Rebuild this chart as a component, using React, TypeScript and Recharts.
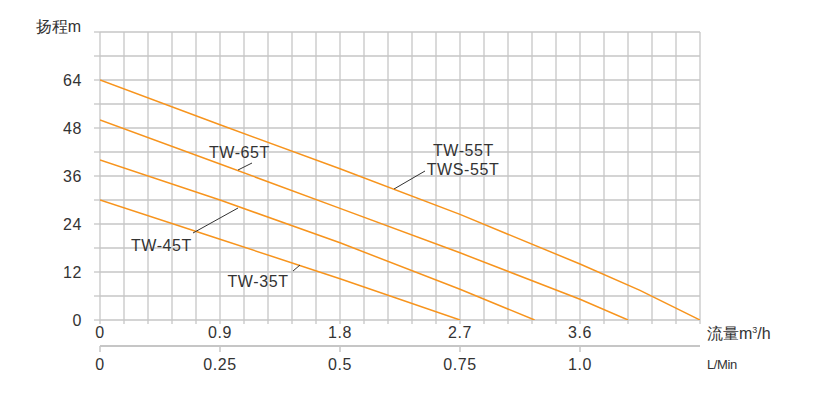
import { CartesianGrid, Line, LineChart, ReferenceDot, ReferenceLine, XAxis, YAxis } from "recharts";

// flow in m³/h, head in m
const tw55Flow = [0, 0.9, 1.8, 2.7, 3.6, 4.05, 4.5];
const tw55Head = [60, 48.8, 37.8, 26.4, 14.0, 7.4, 0];
const tw65Flow = [0, 0.9, 1.8, 2.7, 3.6, 3.96];
const tw65Head = [50, 39.0, 27.9, 16.8, 5.2, 0];
const tw45Flow = [0, 0.9, 1.8, 2.7, 3.26];
const tw45Head = [40, 30, 19.3, 7.7, 0];
const tw35Flow = [0, 0.9, 1.8, 2.7];
const tw35Head = [30, 20.2, 10.3, 0];

const flowLabels = [0, 0.9, 1.8, 2.7, 3.6];
const lminTicks = [0, 0.25, 0.5, 0.75, 1.0];
const lminLabels = ["0", "0.25", "0.5", "0.75", "1.0"];
const headTicks = [0, 6, 12, 18, 24, 30, 36, 42, 48, 54, 60, 66, 72];
const headLabels: Record<number, string> = { 0: "0", 12: "12", 24: "24", 36: "36", 48: "48", 60: "64" };

const gridX = Array.from({ length: 26 }, (_, i) => +(i * 0.18).toFixed(2));

const ORANGE = "#f7941d";
const GRID = "#c6c6c6";
const TEXT = "#333333";
const FONT = "'Liberation Sans', Arial, sans-serif";

const zip = (xs: number[], ys: number[]) => xs.map((x, i) => ({ x, y: ys[i] }));

const series = [
  { name: "TW-55T", data: zip(tw55Flow, tw55Head) },
  { name: "TW-65T", data: zip(tw65Flow, tw65Head) },
  { name: "TW-45T", data: zip(tw45Flow, tw45Head) },
  { name: "TW-35T", data: zip(tw35Flow, tw35Head) },
];

// annotation leaders and label anchors, in data units
const leaders = [
  { a: { x: 1.14, y: 39.25 }, b: { x: 1.035, y: 37.5 } },
  { a: { x: 2.4375, y: 37.25 }, b: { x: 2.205, y: 32.75 } },
  { a: { x: 0.6975, y: 21.75 }, b: { x: 1.035, y: 28 } },
  { a: { x: 1.4475, y: 12.25 }, b: { x: 1.5, y: 13.75 } },
];
const tags = [
  { x: 1.046, y: 42, text: "TW-65T" },
  { x: 2.726, y: 42.5, text: "TW-55T" },
  { x: 2.7225, y: 37.75, text: "TWS-55T" },
  { x: 0.461, y: 18.75, text: "TW-45T" },
  { x: 1.185, y: 9.75, text: "TW-35T" },
];

const tickStyle = { fontSize: 16, fill: TEXT, fontFamily: FONT, letterSpacing: 0.6 };

export default function App() {
  return (
    <div style={{ position: "relative", width: 819, height: 385, fontFamily: FONT }}>
      <LineChart
        width={819}
        height={385}
        margin={{ top: 24, right: 127, left: 0, bottom: 17 }}
      >
        <CartesianGrid stroke={GRID} strokeWidth={1.3} />
        <XAxis
          type="number"
          dataKey="x"
          domain={[0, 4.5]}
          ticks={gridX}
          interval={0}
          height={26}
          tickSize={4}
          tickMargin={3}
          axisLine={false}
          tickLine={{ stroke: GRID, strokeWidth: 1.3 }}
          tick={tickStyle}
          tickFormatter={(v: number) => (flowLabels.includes(v) ? String(v) : "")}
          allowDataOverflow
        />
        <XAxis
          xAxisId="lmin"
          type="number"
          dataKey="x"
          domain={[0, 1.25]}
          ticks={lminTicks}
          interval={0}
          height={30}
          tickSize={6}
          tickMargin={7}
          axisLine={{ stroke: GRID, strokeWidth: 2 }}
          tickLine={{ stroke: GRID, strokeWidth: 1.5 }}
          tick={tickStyle}
          tickFormatter={(v: number) => lminLabels[lminTicks.indexOf(v)] ?? String(v)}
          allowDataOverflow
        />
        <YAxis
          type="number"
          domain={[0, 72]}
          ticks={headTicks}
          interval={0}
          width={92}
          tickSize={6}
          tickMargin={12}
          axisLine={false}
          tickLine={{ stroke: GRID, strokeWidth: 1.3 }}
          tick={tickStyle}
          tickFormatter={(v: number) => headLabels[v] ?? ""}
          allowDataOverflow
        />
        {series.map((s) => (
          <Line
            key={s.name}
            data={s.data}
            dataKey="y"
            type="linear"
            stroke={ORANGE}
            strokeWidth={1.5}
            dot={false}
            isAnimationActive={false}
          />
        ))}
        {leaders.map((l, i) => (
          <ReferenceLine
            key={i}
            segment={[l.a, l.b]}
            stroke="#333"
            strokeWidth={1}
            ifOverflow="visible"
          />
        ))}
        {tags.map((t) => (
          <ReferenceDot
            key={t.text}
            x={t.x}
            y={t.y}
            r={0}
            fill="none"
            stroke="none"
            ifOverflow="visible"
            label={{ value: t.text, position: "center", fill: TEXT, fontSize: 16, fontFamily: FONT, letterSpacing: 0.6 }}
          />
        ))}
      </LineChart>
      <div style={{ position: "absolute", right: 746, top: 9, fontSize: 16, color: TEXT, whiteSpace: "nowrap", lineHeight: "19px" }}>
        扬程m
      </div>
      <div style={{ position: "absolute", left: 699, top: 316, fontSize: 16, color: TEXT, whiteSpace: "nowrap", lineHeight: "20px" }}>
        流量m<sup style={{ fontSize: 9, verticalAlign: "6px", lineHeight: 0 }}>3</sup>/h
      </div>
      <div style={{ position: "absolute", left: 699, top: 349, fontSize: 13, color: TEXT, whiteSpace: "nowrap", lineHeight: "16px", letterSpacing: -0.4 }}>
        L/Min
      </div>
    </div>
  );
}
